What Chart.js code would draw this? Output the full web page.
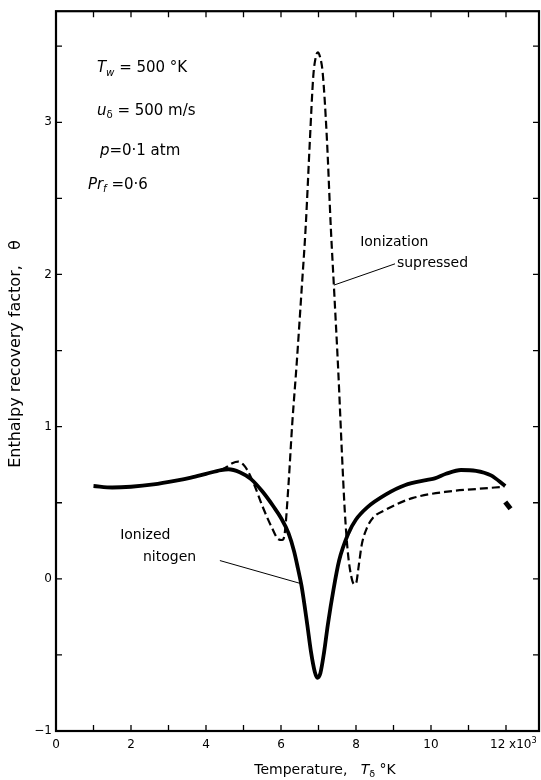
<!DOCTYPE html>
<html>
<head>
<meta charset="utf-8">
<script src="https://cdn.jsdelivr.net/npm/chart.js@4.4.1/dist/chart.umd.min.js"></script>
<style>
html,body{margin:0;padding:0;background:#fff;}
#wrap{width:541px;height:780px;position:relative;}
</style>
</head>
<body>
<div id="wrap"><canvas id="c" width="541" height="780"></canvas></div>
<script>
// ---- data ----
const ionizedX = [1.0, 1.5, 2.0, 2.6, 3.2, 3.6, 4.0, 4.4, 4.6, 4.9, 5.2, 5.5, 5.8, 6.0, 6.2, 6.35, 6.45, 6.55, 6.7, 6.8, 6.9, 6.97, 7.05, 7.15, 7.25, 7.4, 7.55, 7.8, 8.0, 8.3, 8.8, 9.3, 9.9, 10.1, 10.4, 10.8, 11.2, 11.6, 11.98];
const ionizedY = [0.61, 0.60, 0.605, 0.62, 0.645, 0.665, 0.69, 0.715, 0.72, 0.70, 0.655, 0.575, 0.475, 0.40, 0.30, 0.18, 0.07, -0.05, -0.30, -0.48, -0.61, -0.65, -0.62, -0.48, -0.30, -0.07, 0.12, 0.30, 0.39, 0.47, 0.555, 0.615, 0.65, 0.66, 0.69, 0.715, 0.71, 0.68, 0.61];

const suppressedX = [4.4, 4.55, 4.7, 4.86, 5.0, 5.1, 5.3, 5.5, 5.75, 5.93, 6.03, 6.1, 6.2, 6.3, 6.42, 6.55, 6.66, 6.77, 6.86, 6.92, 6.98, 7.04, 7.11, 7.22, 7.33, 7.42, 7.53, 7.62, 7.7, 7.78, 7.87, 7.95, 8.0, 8.07, 8.15, 8.3, 8.45, 8.8, 9.5, 10.5, 11.2, 11.95];
const suppressedY = [0.715, 0.735, 0.76, 0.77, 0.75, 0.715, 0.61, 0.48, 0.34, 0.26, 0.255, 0.30, 0.62, 1.02, 1.42, 1.90, 2.32, 2.88, 3.30, 3.42, 3.46, 3.43, 3.33, 2.91, 2.30, 1.88, 1.35, 0.85, 0.45, 0.18, 0.02, -0.035, -0.03, 0.08, 0.22, 0.34, 0.40, 0.455, 0.53, 0.575, 0.59, 0.605];

const tailX = [11.98, 12.12];
const tailY = [0.505, 0.46];

const xLabelValues = [0, 2, 4, 6, 8, 10];
const yLabelValues = [-1, 0, 1, 2, 3];

// ---- annotations (data coordinates) ----
const paramNotes = [
  {x: 1.09, y: 3.355, segs: [{t:'T', it:true}, {t:'w', sub:true, it:true}, {t:' = 500 °K'}]},
  {x: 1.09, y: 3.075, segs: [{t:'u', it:true}, {t:'δ', sub:true}, {t:' = 500 m/s'}]},
  {x: 1.17, y: 2.81,  segs: [{t:'p', it:true}, {t:'=0·1 atm'}]},
  {x: 0.85, y: 2.59,  segs: [{t:'Pr', it:true}, {t:'f', sub:true, it:true}, {t:' =0·6'}]}
];
const curveNotes = [
  {x: 8.11, y: 2.21, text: 'Ionization'},
  {x: 9.09, y: 2.07, text: 'supressed'},
  {x: 1.71, y: 0.283, text: 'Ionized'},
  {x: 2.32, y: 0.139, text: 'nitogen'}
];
const leaders = [
  {x1: 9.04, y1: 2.07, x2: 7.41, y2: 1.93},
  {x1: 4.37, y1: 0.12, x2: 6.51, y2: -0.03}
];

const FONT = '"DejaVu Sans", "Liberation Sans", sans-serif';
const zip = (xs, ys) => xs.map((x, i) => ({x, y: ys[i]}));

function drawRich(ctx, x, y, segs, size) {
  let cx = x;
  ctx.textBaseline = 'middle';
  ctx.textAlign = 'left';
  for (const s of segs) {
    const sz = s.sub || s.sup ? size * 0.68 : size;
    ctx.font = (s.it ? 'italic ' : '') + sz + 'px ' + FONT;
    const dy = s.sub ? size * 0.32 : (s.sup ? -size * 0.35 : 0);
    ctx.fillText(s.t, cx, y + dy);
    cx += ctx.measureText(s.t).width;
  }
}

const decor = {
  id: 'decor',
  afterDraw(chart) {
    const {ctx, chartArea: a, scales: {x, y}} = chart;
    ctx.save();
    ctx.strokeStyle = '#000';
    ctx.fillStyle = '#000';
    // frame
    ctx.lineWidth = 2.2;
    ctx.strokeRect(a.left, a.top, a.right - a.left, a.bottom - a.top);
    // inward ticks
    ctx.lineWidth = 1.3;
    ctx.beginPath();
    for (let v = 0; v <= 12; v += 1) {
      const px = x.getPixelForValue(v);
      ctx.moveTo(px, a.bottom); ctx.lineTo(px, a.bottom - 6);
      ctx.moveTo(px, a.top); ctx.lineTo(px, a.top + 6);
    }
    for (let v = -1; v <= 3.5; v += 0.5) {
      const py = y.getPixelForValue(v);
      ctx.moveTo(a.left, py); ctx.lineTo(a.left + 6, py);
      ctx.moveTo(a.right, py); ctx.lineTo(a.right - 6, py);
    }
    ctx.stroke();
    // last x label "12 x10^3"
    const p12 = x.getPixelForValue(12);
    drawRich(ctx, p12 - 16, a.bottom + 14, [{t:'12 x10'}, {t:'3', sup:true}], 12);
    // parameter notes
    for (const n of paramNotes) {
      drawRich(ctx, x.getPixelForValue(n.x), y.getPixelForValue(n.y), n.segs, 15);
    }
    // curve notes
    ctx.font = '14px ' + FONT;
    ctx.textBaseline = 'middle';
    ctx.textAlign = 'left';
    for (const n of curveNotes) {
      ctx.fillText(n.text, x.getPixelForValue(n.x), y.getPixelForValue(n.y));
    }
    // leader lines
    ctx.lineWidth = 1;
    ctx.beginPath();
    for (const l of leaders) {
      ctx.moveTo(x.getPixelForValue(l.x1), y.getPixelForValue(l.y1));
      ctx.lineTo(x.getPixelForValue(l.x2), y.getPixelForValue(l.y2));
    }
    ctx.stroke();
    // axis titles
    ctx.font = '14px ' + FONT;
    const xt = [{t:'Temperature,   '}, {t:'T', it:true}, {t:'δ', sub:true}, {t:' °K'}];
    let w = 0;
    for (const s of xt) { ctx.font = (s.it?'italic ':'') + (s.sub?14*0.68:14) + 'px ' + FONT; w += ctx.measureText(s.t).width; }
    drawRich(ctx, 325 - w / 2, 770, xt, 14);
    ctx.translate(16, 354);
    ctx.rotate(-Math.PI / 2);
    ctx.font = '16px ' + FONT;
    ctx.textAlign = 'center';
    ctx.textBaseline = 'middle';
    ctx.fillText('Enthalpy recovery factor,   θ', 0, 0);
    ctx.restore();
  }
};

new Chart(document.getElementById('c'), {
  type: 'line',
  data: {
    datasets: [
      {label: 'Ionized nitogen', data: zip(ionizedX, ionizedY), borderColor: '#000', borderWidth: 3.8, pointRadius: 0, cubicInterpolationMode: 'monotone', fill: false},
      {label: 'Ionization supressed', data: zip(suppressedX, suppressedY), borderColor: '#000', borderWidth: 2.2, borderDash: [8, 4], pointRadius: 0, cubicInterpolationMode: 'monotone', fill: false},
      {label: 'tail', data: zip(tailX, tailY), borderColor: '#000', borderWidth: 5, pointRadius: 0, fill: false}
    ]
  },
  options: {
    responsive: false,
    animation: false,
    layout: {padding: {top: 4, right: 2, left: 0, bottom: 0}},
    plugins: {legend: {display: false}, tooltip: {enabled: false}},
    scales: {
      x: {
        type: 'linear', min: 0, max: 12.88,
        grid: {display: false, drawTicks: false},
        border: {display: false},
        ticks: {
          stepSize: 1, includeBounds: false, autoSkip: false, maxRotation: 0,
          padding: 7, color: '#000', font: {family: FONT, size: 12},
          callback: v => xLabelValues.includes(v) ? String(v) : ''
        },
        afterFit: s => { s.height = 49; }
      },
      y: {
        type: 'linear', min: -1, max: 3.73,
        grid: {display: false, drawTicks: false},
        border: {display: false},
        ticks: {
          stepSize: 0.5, includeBounds: false, autoSkip: false,
          padding: 4, color: '#000', font: {family: FONT, size: 12},
          callback: v => yLabelValues.includes(v) ? (v < 0 ? '−' + Math.abs(v) : String(v)) : ''
        },
        afterFit: s => { s.width = 56; }
      }
    }
  },
  plugins: [decor]
});
</script>
</body>
</html>
